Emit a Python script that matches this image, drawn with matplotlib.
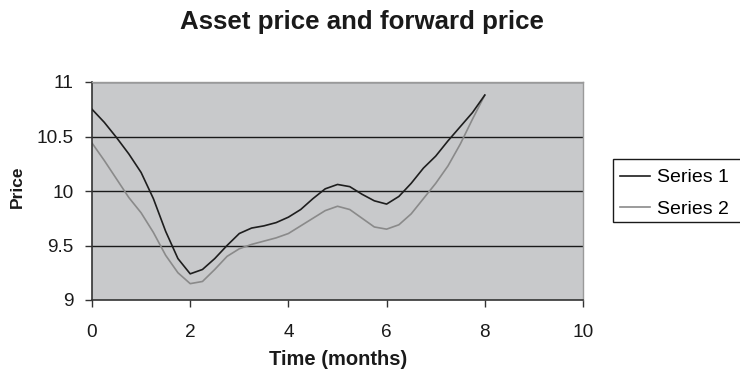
import matplotlib
matplotlib.use("Agg")
import matplotlib.pyplot as plt
from matplotlib.patches import Rectangle

plt.rcParams['font.family'] = ['Liberation Sans', 'DejaVu Sans']

# Time grid in months
time_months = [0, 0.25, 0.5, 0.75, 1.0, 1.25, 1.5, 1.75, 2.0, 2.25, 2.5, 2.75,
               3.0, 3.25, 3.5, 3.75, 4.0, 4.25, 4.5, 4.75, 5.0, 5.25, 5.5, 5.75,
               6.0, 6.25, 6.5, 6.75, 7.0, 7.25, 7.5, 7.75, 8.0]

# Asset price path
series_1 = [10.75, 10.63, 10.49, 10.34, 10.17, 9.93, 9.63, 9.38, 9.24, 9.28,
            9.38, 9.50, 9.61, 9.66, 9.68, 9.71, 9.76, 9.83, 9.93, 10.02, 10.06,
            10.04, 9.97, 9.91, 9.88, 9.95, 10.07, 10.21, 10.32, 10.46, 10.59,
            10.72, 10.88]

# Forward price path
series_2 = [10.44, 10.28, 10.11, 9.94, 9.80, 9.62, 9.41, 9.25, 9.15, 9.17,
            9.28, 9.40, 9.47, 9.51, 9.54, 9.57, 9.61, 9.68, 9.75, 9.82, 9.86,
            9.83, 9.75, 9.67, 9.65, 9.69, 9.79, 9.93, 10.07, 10.23, 10.43,
            10.66, 10.88]

x_ticks = [0, 2, 4, 6, 8, 10]
y_ticks = [9, 9.5, 10, 10.5, 11]
y_tick_labels = ['9', '9.5', '10', '10.5', '11']

W, H = 740, 369
fig = plt.figure(figsize=(W / 100, H / 100), dpi=100)
ax = fig.add_axes([92 / W, 1 - 300 / H, (583 - 92) / W, (300 - 82) / H])
ax.set_facecolor('#c8c9cb')

for y in y_ticks[1:]:
    ax.axhline(y, color='#1a1a1a', lw=1.0, zorder=1)

ax.plot(time_months, series_1, color='#1e1e1e', lw=1.2, label='Series 1', zorder=3)
ax.plot(time_months, series_2, color='#8a8a8a', lw=1.2, label='Series 2', zorder=2)

ax.set_xlim(0, 10)
ax.set_ylim(9, 11)
ax.set_xticks(x_ticks)
ax.set_xticklabels([str(v) for v in x_ticks])
ax.set_yticks(y_ticks)
ax.set_yticklabels(y_tick_labels)
ax.tick_params(axis='both', direction='out', length=5, width=1, color='#333333',
               labelsize=13.7, labelcolor='#1a1a1a')
ax.tick_params(axis='x', pad=12.5)
ax.tick_params(axis='y', pad=8.5)

for side in ['top', 'right']:
    ax.spines[side].set_color('#9a9a9a')
    ax.spines[side].set_linewidth(1.0)
for side in ['left', 'bottom']:
    ax.spines[side].set_color('#333333')
    ax.spines[side].set_linewidth(1.2)

# Titles and axis labels
fig.text(361.5 / W, 1 - 29.5 / H, 'Asset price and forward price', ha='center',
         va='baseline', fontsize=18.6, fontweight='bold', color='#1a1a1a')
fig.text(338 / W, 1 - 365 / H, 'Time (months)', ha='center', va='baseline',
         fontsize=14.5, fontweight='bold', color='#1a1a1a')
fig.text(17.5 / W, 1 - 187 / H, 'Price', ha='center', va='center', rotation=90,
         fontsize=12.5, fontweight='bold', color='#1a1a1a')

# Legend box running off the right edge
fig.patches.append(Rectangle((612.7 / W, 1 - 222 / H), (760 - 612.7) / W, 63 / H,
                             transform=fig.transFigure, facecolor='white',
                             edgecolor='#1a1a1a', lw=1.0))
leg = fig.legend(loc='upper left', bbox_to_anchor=(612.7 / W, 1 - 161 / H),
                 frameon=False, fontsize=14, handlelength=1.5,
                 handletextpad=0.4, borderpad=0.4, labelspacing=0.7,
                 borderaxespad=0)

fig.savefig('out.png', dpi=100)
